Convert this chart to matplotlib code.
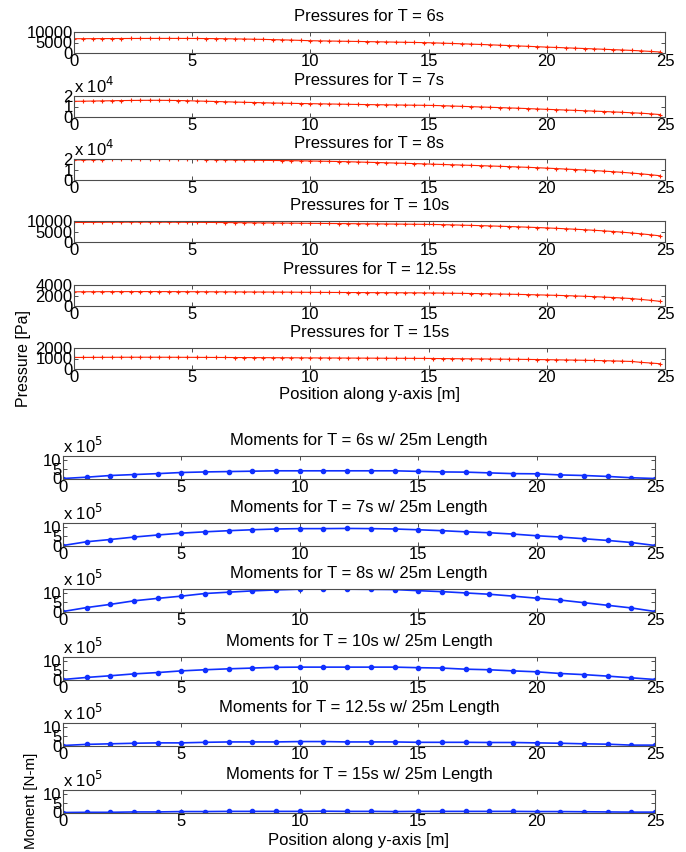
import numpy as np
import matplotlib
matplotlib.use("Agg")
import matplotlib.pyplot as plt
from matplotlib.ticker import FuncFormatter

plt.rcParams["font.family"] = ["Liberation Sans", "DejaVu Sans"]
plt.rcParams["font.size"] = 12

W, H = 686, 852

# pressure sample positions (every 0.4 m, last at 24.8 m)
x_p = np.round(np.arange(0, 25, 0.4), 1)
# moment sample positions (every 1 m)
x_m = np.arange(0, 26)

periods = ["6", "7", "8", "10", "12.5", "15"]

p_T6 = [6800, 6820, 6840, 6860, 6880, 6900, 6915, 6930, 6945, 6950,
        6950, 6945, 6930, 6910, 6880, 6850, 6790, 6720, 6650, 6560,
        6480, 6370, 6260, 6140, 6000, 5850, 5770, 5700, 5630, 5570,
        5500, 5420, 5340, 5260, 5180, 5100, 5020, 4940, 4830, 4690,
        4540, 4380, 4230, 4070, 3900, 3720, 3540, 3360, 3180, 2990,
        2800, 2640, 2470, 2300, 2130, 1960, 1780, 1600, 1420, 1230,
        1000, 740, 460]
p_T7 = [14900, 15050, 15200, 15350, 15500, 15650, 15750, 15850, 15900, 15900,
        15800, 15700, 15500, 15250, 15000, 14750, 14500, 14250, 14000, 13800,
        13550, 13350, 13200, 13000, 12850, 12700, 12550, 12400, 12250, 12100,
        11950, 11830, 11700, 11580, 11460, 11350, 11250, 11150, 11000, 10750,
        10450, 10150, 9850, 9550, 9250, 8950, 8650, 8350, 8000, 7650,
        7300, 6980, 6650, 6300, 5950, 5600, 5230, 4850, 4450, 4030,
        3600, 3000, 2300]
p_T8 = [19000, 19170, 19330, 19480, 19620, 19740, 19830, 19890, 19910, 19900,
        19860, 19790, 19700, 19580, 19460, 19340, 19220, 19100, 18980, 18860,
        18740, 18620, 18500, 18380, 18250, 18100, 17950, 17780, 17600, 17390,
        17150, 16900, 16650, 16400, 16150, 15900, 15620, 15340, 15060, 14780,
        14500, 14220, 13940, 13650, 13350, 13050, 12730, 12400, 12060, 11700,
        11300, 10870, 10430, 9970, 9500, 9000, 8470, 7900, 7280, 6600,
        5850, 5000, 4050]
p_T10 = [9300, 9330, 9360, 9390, 9410, 9430, 9440, 9450, 9450, 9445,
         9430, 9415, 9390, 9360, 9330, 9290, 9260, 9220, 9180, 9140,
         9100, 9060, 9020, 8980, 8940, 8900, 8860, 8820, 8780, 8740,
         8700, 8660, 8620, 8580, 8540, 8500, 8460, 8420, 8350, 8250,
         8150, 8030, 7910, 7790, 7660, 7520, 7370, 7220, 7060, 6890,
         6710, 6510, 6300, 6080, 5840, 5580, 5300, 5000, 4660, 4290,
         3880, 3420, 2900]
p_T12_5 = [2700, 2710, 2718, 2726, 2733, 2738, 2742, 2744, 2744, 2742,
           2738, 2732, 2725, 2717, 2709, 2700, 2692, 2684, 2676, 2668,
           2660, 2652, 2644, 2636, 2620, 2605, 2595, 2585, 2576, 2567,
           2558, 2549, 2540, 2532, 2524, 2516, 2508, 2495, 2480, 2460,
           2435, 2410, 2380, 2350, 2320, 2285, 2250, 2210, 2170, 2125,
           2080, 2030, 1975, 1915, 1850, 1780, 1700, 1615, 1520, 1415,
           1240, 1080, 880]
p_T15 = [1100, 1104, 1108, 1112, 1115, 1118, 1120, 1121, 1121, 1120,
         1118, 1115, 1112, 1108, 1104, 1100, 1096, 1092, 1088, 1084,
         1080, 1076, 1072, 1068, 1063, 1058, 1054, 1050, 1046, 1042,
         1038, 1034, 1030, 1026, 1022, 1018, 1014, 1008, 1000, 992,
         984, 976, 968, 960, 951, 942, 932, 922, 911, 900,
         888, 875, 861, 846, 830, 812, 792, 770, 745, 716,
         630, 570, 500]
pressures = [p_T6, p_T7, p_T8, p_T10, p_T12_5, p_T15]
p_ylims = [10000, 20000, 20000, 10000, 4000, 2000]
p_ticks = [[0, 5000, 10000], [0, 10000, 20000], [0, 10000, 20000],
           [0, 5000, 10000], [0, 2000, 4000], [0, 1000, 2000]]
p_sci = [None, 4, 4, None, None, None]

# moments in units of 1e5 N-m
m_T6 = [0, 0.7, 1.6, 2.1, 2.6, 3.2, 3.5, 3.7, 3.9, 4.1, 4.1, 4.1, 4.1,
        4.1, 4.1, 3.8, 3.5, 3.4, 3.0, 2.6, 2.5, 1.9, 1.6, 1.1, 0.4, 0]
m_T7 = [0, 2.0, 3.2, 4.5, 5.6, 6.6, 7.3, 7.9, 8.4, 8.8, 9.0, 9.0, 9.1,
        9.0, 8.8, 8.4, 7.9, 7.3, 6.8, 6.1, 5.2, 4.5, 3.6, 2.7, 1.6, 0]
m_T8 = [0, 2.1, 3.8, 5.7, 7.0, 8.2, 9.6, 10.3, 11.0, 11.5, 11.9, 11.9, 11.9,
        11.8, 11.7, 11.1, 10.6, 9.9, 9.2, 8.2, 7.1, 6.1, 4.7, 3.3, 1.9, 0]
m_T10 = [0, 1.1, 2.0, 3.0, 3.7, 4.6, 5.2, 5.7, 6.1, 6.5, 6.6, 6.6, 6.6,
         6.6, 6.6, 6.3, 6.1, 5.5, 5.2, 4.6, 4.1, 3.2, 2.6, 1.8, 0.9, 0]
m_T12_5 = [0, 0.6, 0.9, 1.2, 1.4, 1.4, 1.7, 1.9, 1.9, 1.9, 2.1, 2.1, 1.9,
           1.9, 1.9, 1.7, 1.7, 1.7, 1.6, 1.6, 1.4, 1.2, 0.9, 0.7, 0.2, 0.2]
m_T15 = [0, 0.1, 0.1, 0.3, 0.3, 0.5, 0.5, 0.6, 0.6, 0.6, 0.6, 0.7, 0.6,
         0.6, 0.5, 0.6, 0.6, 0.6, 0.6, 0.6, 0.5, 0.5, 0.4, 0.3, 0.2, 0.2]
moments = [m_T6, m_T7, m_T8, m_T10, m_T12_5, m_T15]

# axes placement in pixels (top edges)
p_tops = [32, 96, 159, 221, 285, 348]
m_tops = [456, 523, 589, 657, 723, 790]
FRAME = "#4d4d4d"
RED = "#ff2200"
BLUE = "#1030ff"


def box(fig, left, top, width, height):
    return fig.add_axes([left / W, 1 - (top + height) / H, width / W, height / H])


def style(ax):
    for s in ax.spines.values():
        s.set_color(FRAME)
        s.set_linewidth(0.8)
    ax.tick_params(direction="in", length=3, width=0.7, color=FRAME,
                   top=True, right=True, labelsize=12, pad=1)
    ax.set_xlim(0, 25)
    ax.set_xticks([0, 5, 10, 15, 20, 25])


fig = plt.figure(figsize=(W / 100, H / 100), dpi=100)

for i, (T, vals) in enumerate(zip(periods, pressures)):
    ax = box(fig, 74, p_tops[i], 591, 21)
    ax.plot(x_p, vals, color=RED, lw=0.8, marker="+", ms=3, mew=0.8)
    style(ax)
    ax.set_ylim(0, p_ylims[i])
    ax.set_yticks(p_ticks[i])
    if p_sci[i]:
        e = p_sci[i]
        ax.yaxis.set_major_formatter(FuncFormatter(lambda v, _, e=e: f"{v / 10**e:g}"))
        ax.text(0, 1.0, f"x 10$^{{{e}}}$", transform=ax.transAxes, ha="left", va="bottom")
    else:
        ax.yaxis.set_major_formatter(FuncFormatter(lambda v, _: f"{v:g}"))
    ax.set_title(f"Pressures for T = {T}s", fontsize=12, pad=8)
    if i == 5:
        ax.set_ylabel("Pressure [Pa]", fontsize=11.5, labelpad=3)
        ax.set_xlabel("Position along y-axis [m]", labelpad=1)

for i, (T, vals) in enumerate(zip(periods, moments)):
    ax = box(fig, 63, m_tops[i], 592, 22.5)
    ax.plot(x_m, vals, color=BLUE, lw=1.2, marker=".", ms=6)
    style(ax)
    ax.set_ylim(0, 12)
    ax.set_yticks([0, 5, 10])
    ax.text(0, 1.0, "x 10$^{5}$", transform=ax.transAxes, ha="left", va="bottom")
    ax.set_title(f"Moments for T = {T}s w/ 25m Length", fontsize=12, pad=8)
    if i == 5:
        ax.set_ylabel("Moment [N-m]", fontsize=11, labelpad=4)
        ax.set_xlabel("Position along y-axis [m]", labelpad=3)

fig.savefig("out.png", dpi=100)
